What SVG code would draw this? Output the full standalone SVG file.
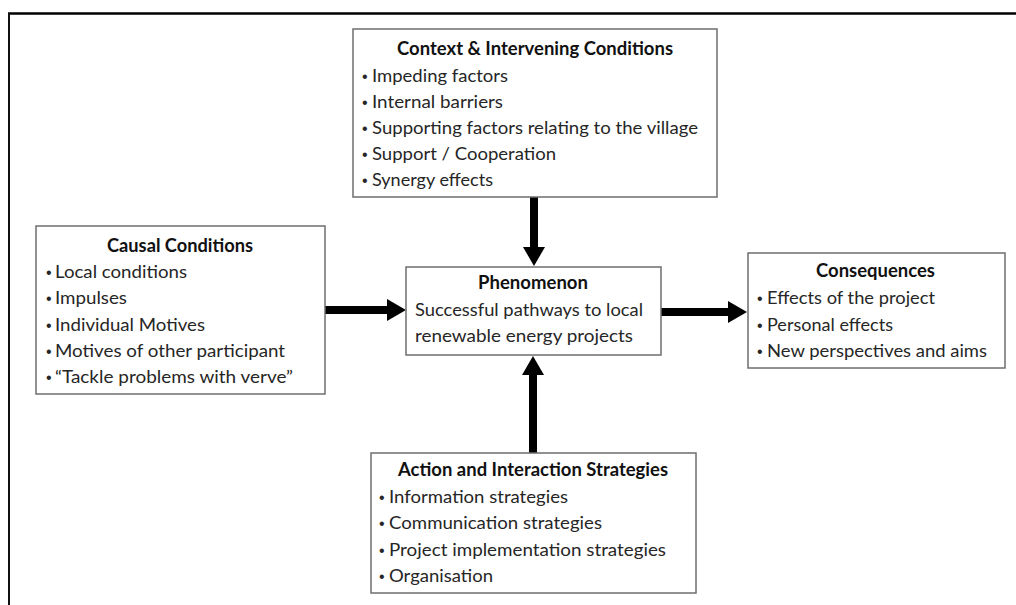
<svg xmlns="http://www.w3.org/2000/svg" width="1016" height="605" viewBox="0 0 1016 605">
<defs>
<style>
.box{fill:#fff;stroke:#6e6e6e;stroke-width:1.5}
.t{font-family:Lato,"Liberation Sans",sans-serif;font-size:17.5px;fill:#262626}
.h{font-family:Lato,"Liberation Sans",sans-serif;font-size:18px;font-weight:bold;fill:#111}
.b{font-family:"Liberation Sans",sans-serif;font-size:16px;fill:#262626}
.c{stroke:#000;stroke-width:8;fill:none}
</style>
<marker id="ah" markerUnits="userSpaceOnUse" markerWidth="19" markerHeight="22" refX="0" refY="11" orient="auto">
<path d="M0,0 L19,11 L0,22 Z" fill="#000"/>
</marker>
</defs>
<rect width="1016" height="605" fill="#fff"/>
<g id="frame">
<line x1="8" y1="13.5" x2="1016" y2="13.5" stroke="#000" stroke-width="2.5"/>
<line x1="9" y1="13" x2="9" y2="605" stroke="#111" stroke-width="2"/>
</g>
<g id="connectors">
<line class="c" x1="534" y1="197" x2="534" y2="247" marker-end="url(#ah)"/>
<line class="c" x1="533" y1="453" x2="533" y2="375" marker-end="url(#ah)"/>
<line class="c" x1="325" y1="310" x2="387" y2="310" marker-end="url(#ah)"/>
<line class="c" x1="661" y1="312" x2="728" y2="312" marker-end="url(#ah)"/>
</g>
<g id="context">
<rect class="box" x="353" y="29" width="364" height="168"/>
<text class="h" x="397" y="55" textLength="276" lengthAdjust="spacingAndGlyphs">Context &amp; Intervening Conditions</text>
<text class="b" x="362" y="82">•</text><text class="t" x="372" y="82" textLength="136" lengthAdjust="spacingAndGlyphs">Impeding factors</text>
<text class="b" x="362" y="108">•</text><text class="t" x="372" y="108" textLength="131" lengthAdjust="spacingAndGlyphs">Internal barriers</text>
<text class="b" x="362" y="134">•</text><text class="t" x="372" y="134" textLength="326" lengthAdjust="spacingAndGlyphs">Supporting factors relating to the village</text>
<text class="b" x="362" y="160">•</text><text class="t" x="372" y="160" textLength="184" lengthAdjust="spacingAndGlyphs">Support / Cooperation</text>
<text class="b" x="362" y="186">•</text><text class="t" x="372" y="186" textLength="121" lengthAdjust="spacingAndGlyphs">Synergy effects</text>
</g>
<g id="causal">
<rect class="box" x="36" y="226" width="289" height="168"/>
<text class="h" x="107" y="252" textLength="146" lengthAdjust="spacingAndGlyphs">Causal Conditions</text>
<text class="b" x="46" y="278">•</text><text class="t" x="55" y="278" textLength="132" lengthAdjust="spacingAndGlyphs">Local conditions</text>
<text class="b" x="46" y="304">•</text><text class="t" x="55" y="304" textLength="72" lengthAdjust="spacingAndGlyphs">Impulses</text>
<text class="b" x="46" y="331">•</text><text class="t" x="55" y="331" textLength="150" lengthAdjust="spacingAndGlyphs">Individual Motives</text>
<text class="b" x="46" y="357">•</text><text class="t" x="55" y="357" textLength="230" lengthAdjust="spacingAndGlyphs">Motives of other participant</text>
<text class="b" x="46" y="383">•</text><text class="t" x="55" y="383" textLength="238" lengthAdjust="spacingAndGlyphs">“Tackle problems with verve”</text>
</g>
<g id="phenomenon">
<rect class="box" x="406" y="267" width="255" height="88"/>
<text class="h" x="478" y="289" textLength="110" lengthAdjust="spacingAndGlyphs">Phenomenon</text>
<text class="t" x="415" y="316" textLength="228" lengthAdjust="spacingAndGlyphs">Successful pathways to local</text>
<text class="t" x="415" y="342" textLength="218" lengthAdjust="spacingAndGlyphs">renewable energy projects</text>
</g>
<g id="consequences">
<rect class="box" x="748" y="253" width="257" height="115"/>
<text class="h" x="816" y="277" textLength="119" lengthAdjust="spacingAndGlyphs">Consequences</text>
<text class="b" x="757" y="304">•</text><text class="t" x="767" y="304" textLength="168" lengthAdjust="spacingAndGlyphs">Effects of the project</text>
<text class="b" x="757" y="331">•</text><text class="t" x="767" y="331" textLength="126" lengthAdjust="spacingAndGlyphs">Personal effects</text>
<text class="b" x="757" y="357">•</text><text class="t" x="767" y="357" textLength="220" lengthAdjust="spacingAndGlyphs">New perspectives and aims</text>
</g>
<g id="action">
<rect class="box" x="371" y="453" width="325" height="140"/>
<text class="h" x="398" y="476" textLength="270" lengthAdjust="spacingAndGlyphs">Action and Interaction Strategies</text>
<text class="b" x="379" y="503">•</text><text class="t" x="389" y="503" textLength="179" lengthAdjust="spacingAndGlyphs">Information strategies</text>
<text class="b" x="379" y="529">•</text><text class="t" x="389" y="529" textLength="213" lengthAdjust="spacingAndGlyphs">Communication strategies</text>
<text class="b" x="379" y="556">•</text><text class="t" x="389" y="556" textLength="277" lengthAdjust="spacingAndGlyphs">Project implementation strategies</text>
<text class="b" x="379" y="582">•</text><text class="t" x="389" y="582" textLength="104" lengthAdjust="spacingAndGlyphs">Organisation</text>
</g>
</svg>
